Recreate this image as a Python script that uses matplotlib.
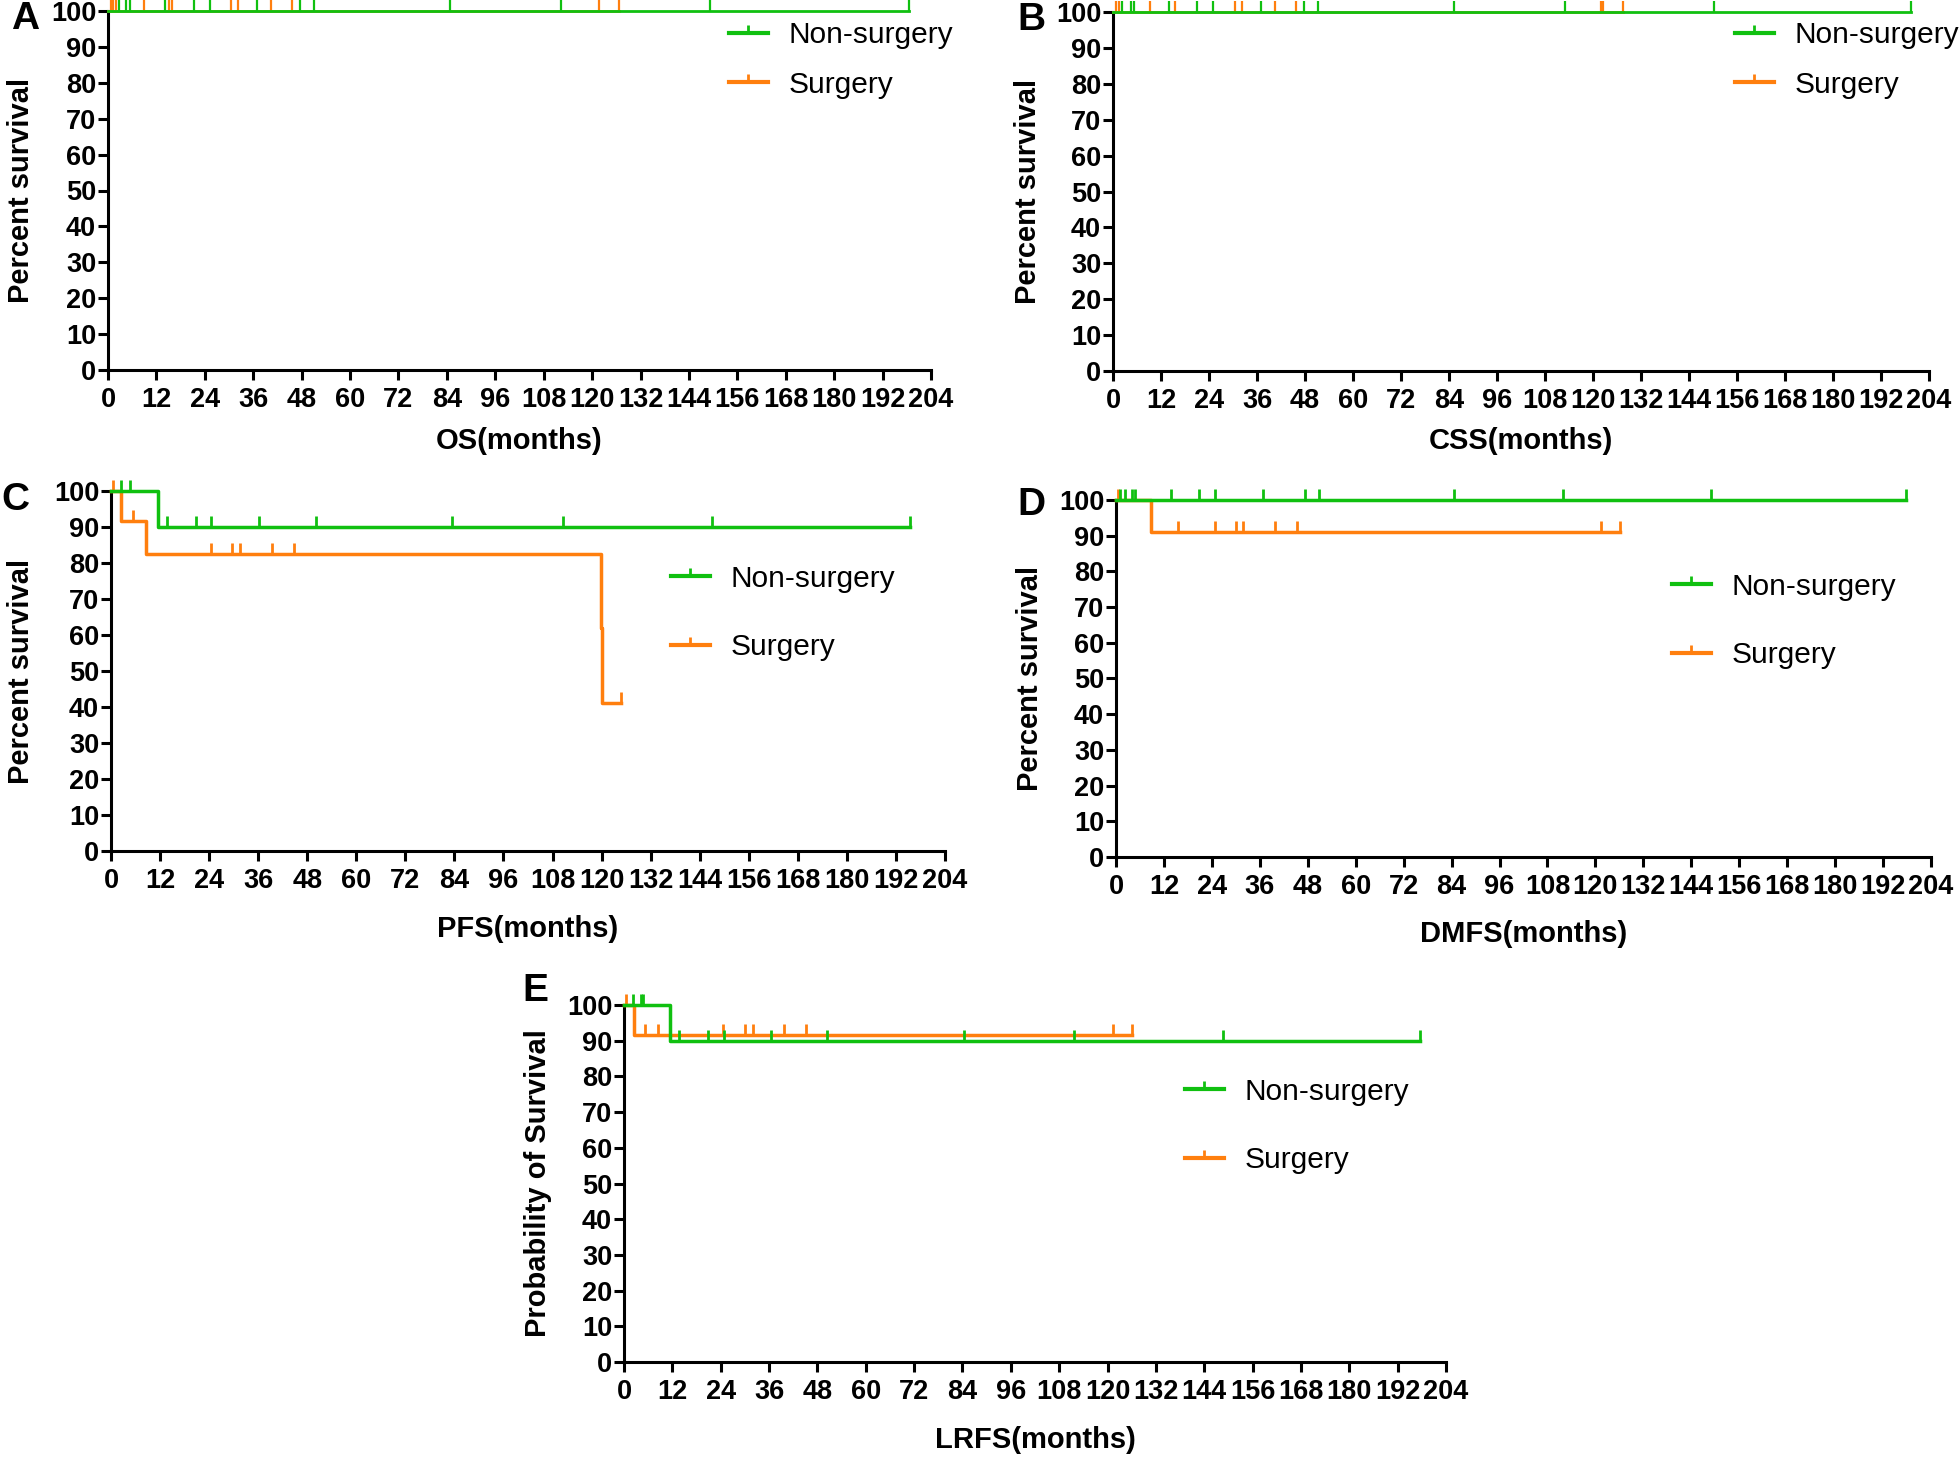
import numpy as np
import matplotlib.pyplot as plt
from matplotlib.lines import Line2D

plt.rcParams['font.family'] = ['Liberation Sans', 'DejaVu Sans']

GREEN = '#10c010'
ORANGE = '#ff7f0e'
W, H = 1960, 1457

# ---- data (months, percent survival) ----
# A: OS
a_ns_t, a_ns_s, a_ns_end = [0], [100], 198.5
a_ns_cens = [2.7, 4.4, 5.4, 14.1, 21.2, 25.3, 37.0, 47.7, 51.0, 84.7, 112.2, 149.2, 198.5]
a_s_t, a_s_s, a_s_end = [0], [100], 126.7
a_s_cens = [0.7, 1.3, 2.0, 9.0, 15.2, 15.9, 30.6, 32.3, 40.3, 45.7, 121.6, 126.7]

# B: CSS
b_ns_t, b_ns_s, b_ns_end = [0], [100], 199.6
b_ns_cens = [2.3, 4.5, 5.2, 14.0, 21.0, 25.1, 37.0, 47.7, 51.2, 85.2, 112.9, 150.2, 199.6]
b_s_t, b_s_s, b_s_end = [0], [100], 127.6
b_s_cens = [0.7, 1.4, 9.2, 15.5, 30.5, 32.2, 40.5, 45.7, 122.0, 122.6, 127.6]

# C: PFS
c_ns_t, c_ns_s, c_ns_end = [0, 11.4], [100, 90], 195.5
c_ns_cens = [2.4, 4.6, 13.7, 20.7, 24.5, 36.3, 50.1, 83.4, 110.6, 147.0, 195.5]
c_s_t = [0, 2.4, 8.6, 119.8, 120.2]
c_s_s = [100, 91.7, 82.5, 61.9, 41.25]
c_s_end = 124.7
c_s_cens = [0.4, 5.3, 24.5, 29.7, 31.6, 39.5, 44.8, 124.7]

# D: DMFS
d_ns_t, d_ns_s, d_ns_end = [0], [100], 197.8
d_ns_cens = [1.0, 2.3, 4.0, 4.8, 13.7, 20.9, 24.7, 36.7, 47.4, 50.7, 84.5, 112.0, 148.9, 197.8]
d_s_t, d_s_s, d_s_end = [0, 8.7], [100, 90.9], 126.2
d_s_cens = [0.5, 15.4, 24.7, 30.1, 31.9, 39.8, 45.2, 121.4, 126.2]

# E: LRFS
e_ns_t, e_ns_s, e_ns_end = [0, 11.4], [100, 90], 197.6
e_ns_cens = [2.3, 4.3, 4.8, 13.7, 20.9, 24.9, 36.6, 50.5, 84.3, 111.8, 148.7, 197.6]
e_s_t, e_s_s, e_s_end = [0, 2.4], [100, 91.7], 126.1
e_s_cens = [0.4, 5.1, 8.5, 24.6, 30.0, 31.9, 39.8, 45.2, 121.4, 126.1]

xticks = np.arange(0, 205, 12)
yticks = np.arange(0, 101, 10)

fig = plt.figure(figsize=(W / 100, H / 100), dpi=100)


def km(ax, t, s, end, cens, color, lw, z):
    tt = list(t) + [end]
    ss = list(s) + [s[-1]]
    ax.step(tt, ss, where='post', color=color, lw=lw, clip_on=False, zorder=z)
    idx = np.searchsorted(t, cens, side='right') - 1
    cy = np.array(s)[idx]
    ax.plot(cens, cy, ls='none', marker=2, ms=8, mew=lw * 0.8, color=color,
            clip_on=False, zorder=z)


def panel(box, letter, lbl_pos, xlab, xlab_y, ylab, ylab_x, leg_xy, leg_sp,
          ns, s, lw):
    x0, x1, ytop, ybot = box
    ax = fig.add_axes([x0 / W, 1 - ybot / H, (x1 - x0) / W, (ybot - ytop) / H])
    km(ax, *s, ORANGE, lw, 3)
    km(ax, *ns, GREEN, lw, 4)
    ax.set_xlim(0, 204)
    ax.set_ylim(0, 100)
    ax.set_xticks(xticks)
    ax.set_yticks(yticks)
    for sp in ['top', 'right']:
        ax.spines[sp].set_visible(False)
    for sp in ['left', 'bottom']:
        ax.spines[sp].set_linewidth(2.2)
    ax.tick_params(width=2.2, length=7.5, labelsize=19.5)
    ax.tick_params(axis='y', pad=1)
    ax.tick_params(axis='x', pad=5)
    for lab in ax.get_xticklabels() + ax.get_yticklabels():
        lab.set_fontweight('bold')
    fig.text(((x0 + x1) / 2) / W, 1 - xlab_y / H, xlab, ha='center', va='center',
             fontsize=21, fontweight='bold')
    fig.text(ylab_x / W, 1 - ((ytop + ybot) / 2) / H, ylab, ha='center', va='center',
             rotation=90, fontsize=21, fontweight='bold')
    fig.text(lbl_pos[0] / W, 1 - lbl_pos[1] / H, letter, ha='center', va='center',
             fontsize=28, fontweight='bold')
    handles = [Line2D([], [], color=GREEN, lw=3, marker=2, ms=6, mew=2),
               Line2D([], [], color=ORANGE, lw=3, marker=2, ms=6, mew=2)]
    ax.legend(handles, ['Non-surgery', 'Surgery'], loc='center left',
              bbox_to_anchor=(leg_xy[0] / W, 1 - leg_xy[1] / H),
              bbox_transform=fig.transFigure, frameon=False, fontsize=21.5,
              handlelength=1.3, handletextpad=0.7, labelspacing=leg_sp,
              borderpad=0, borderaxespad=0, numpoints=1)
    return ax


panel((108, 931, 11, 370), 'A', (25, 19), 'OS(months)', 441, 'Percent survival', 21,
      (729, 60), 0.72,
      (a_ns_t, a_ns_s, a_ns_end, a_ns_cens), (a_s_t, a_s_s, a_s_end, a_s_cens), 2.0)
panel((1113, 1929, 12, 371), 'B', (1031, 20), 'CSS(months)', 441, 'Percent survival', 1028,
      (1735, 60), 0.72,
      (b_ns_t, b_ns_s, b_ns_end, b_ns_cens), (b_s_t, b_s_s, b_s_end, b_s_cens), 2.0)
panel((111, 945, 491, 851), 'C', (15, 500), 'PFS(months)', 929, 'Percent survival', 21,
      (671, 613), 1.37,
      (c_ns_t, c_ns_s, c_ns_end, c_ns_cens), (c_s_t, c_s_s, c_s_end, c_s_cens), 2.5)
panel((1116, 1931, 500, 857), 'D', (1031, 505), 'DMFS(months)', 934, 'Percent survival', 1030,
      (1672, 621), 1.37,
      (d_ns_t, d_ns_s, d_ns_end, d_ns_cens), (d_s_t, d_s_s, d_s_end, d_s_cens), 2.5)
panel((624, 1446, 1005, 1362), 'E', (535, 991), 'LRFS(months)', 1440, 'Probability of Survival', 538,
      (1185, 1126), 1.37,
      (e_ns_t, e_ns_s, e_ns_end, e_ns_cens), (e_s_t, e_s_s, e_s_end, e_s_cens), 2.5)

fig.savefig('out.png', dpi=100)
